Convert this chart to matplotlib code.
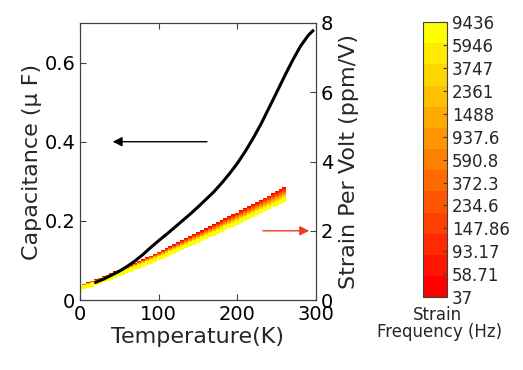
import numpy as np
import matplotlib
matplotlib.use('Agg')
from matplotlib import pyplot as plt
from matplotlib import colors as mcolors

# capacitance vs temperature
temp_c = [20, 30, 40, 50, 60, 70, 80, 90, 100, 110, 120, 130, 140, 150, 160, 170,
          180, 190, 200, 210, 220, 230, 240, 250, 260, 270, 280, 290, 296]
cap = [0.045, 0.053, 0.063, 0.073, 0.085, 0.099, 0.115, 0.133, 0.150, 0.166,
       0.183, 0.200, 0.217, 0.235, 0.254, 0.273, 0.295, 0.319, 0.345, 0.375,
       0.408, 0.444, 0.484, 0.524, 0.565, 0.604, 0.640, 0.668, 0.680]

# strain per volt, lowest frequency curve and per-frequency ratios
temp_s = [0, 20, 40, 60, 80, 100, 120, 140, 160, 180, 200, 220, 240, 260]
strain_37 = [0.36, 0.54, 0.72, 0.92, 1.12, 1.33, 1.55, 1.78, 2.01, 2.24, 2.47, 2.71, 2.96, 3.2]
freq_ratio = [1.0, 0.992, 0.984, 0.976, 0.968, 0.960, 0.952, 0.944, 0.936,
              0.928, 0.920, 0.912, 0.904]
freq_labels = ['37', '58.71', '93.17', '147.86', '234.6', '372.3', '590.8',
               '937.6', '1488', '2361', '3747', '5946', '9436']

txt = '#262626'
spine = '#404040'
plt.rcParams['font.family'] = 'DejaVu Sans'

fig = plt.figure(figsize=(5.23, 3.70), dpi=100)
ax = fig.add_axes([0.153, 0.189, 0.451, 0.749])
ax2 = ax.twinx()

cmap = plt.get_cmap('autumn')
n = len(freq_ratio)
ts = np.arange(0, 261, 5.0)
base = np.interp(ts, temp_s, strain_37)
for i in range(n):
    ax2.plot(ts, base * freq_ratio[i], 's', color=cmap(i / (n - 1)),
             markersize=3.3, markeredgewidth=0)

ax.plot(temp_c, cap, color='black', linewidth=2.2, zorder=5)
ax.set_zorder(ax2.get_zorder() + 1)
ax.patch.set_visible(False)

ax.annotate('', xy=(38, 0.4), xytext=(165, 0.4),
            arrowprops=dict(arrowstyle='-|>', color='black', lw=1, mutation_scale=14))
ax2.annotate('', xy=(295, 2), xytext=(229, 2), annotation_clip=False,
             arrowprops=dict(arrowstyle='-|>', color='#f03c1e', lw=1, mutation_scale=14))

ax.set_xlim(0, 300)
ax.set_ylim(0, 0.7)
ax2.set_ylim(0, 8)
ax.set_xticks([0, 100, 200, 300])
ax.set_yticks([0, 0.2, 0.4, 0.6])
ax.set_yticklabels(['0', '0.2', '0.4', '0.6'])
ax2.set_yticks([0, 2, 4, 6, 8])
ax.tick_params(direction='in', top=True, labelsize=14, colors=spine, labelcolor='black', length=4)
ax2.tick_params(direction='in', labelsize=14, colors=spine, labelcolor='black', length=4)
for a in (ax, ax2):
    for s in a.spines.values():
        s.set_color(spine)
ax.set_xlabel('Temperature(K)', fontsize=16, color=txt, labelpad=2)
ax.set_ylabel('Capacitance (\u03bc F)', fontsize=16, color=txt, labelpad=2)
ax2.set_ylabel('Strain Per Volt (ppm/V)', fontsize=16, color=txt, labelpad=4)

# colorbar: 13 colour bins, 13 evenly spaced labels
cax = fig.add_axes([0.809, 0.197, 0.046, 0.743])
dcmap = mcolors.ListedColormap([cmap(i / (n - 1)) for i in range(n)])
norm = mcolors.Normalize(0, n)
cb = fig.colorbar(plt.cm.ScalarMappable(norm=norm, cmap=dcmap), cax=cax,
                  ticks=np.linspace(0, n, n))
cb.set_ticklabels(freq_labels)
cb.ax.tick_params(labelsize=12, colors=spine, labelcolor=txt, length=3, direction='in')
cb.outline.set_edgecolor(spine)
fig.text(0.836, 0.148, 'Strain', ha='center', va='center', fontsize=12, color=txt)
fig.text(0.84, 0.103, 'Frequency (Hz)', ha='center', va='center', fontsize=12, color=txt)

fig.savefig('out.png', dpi=100)
